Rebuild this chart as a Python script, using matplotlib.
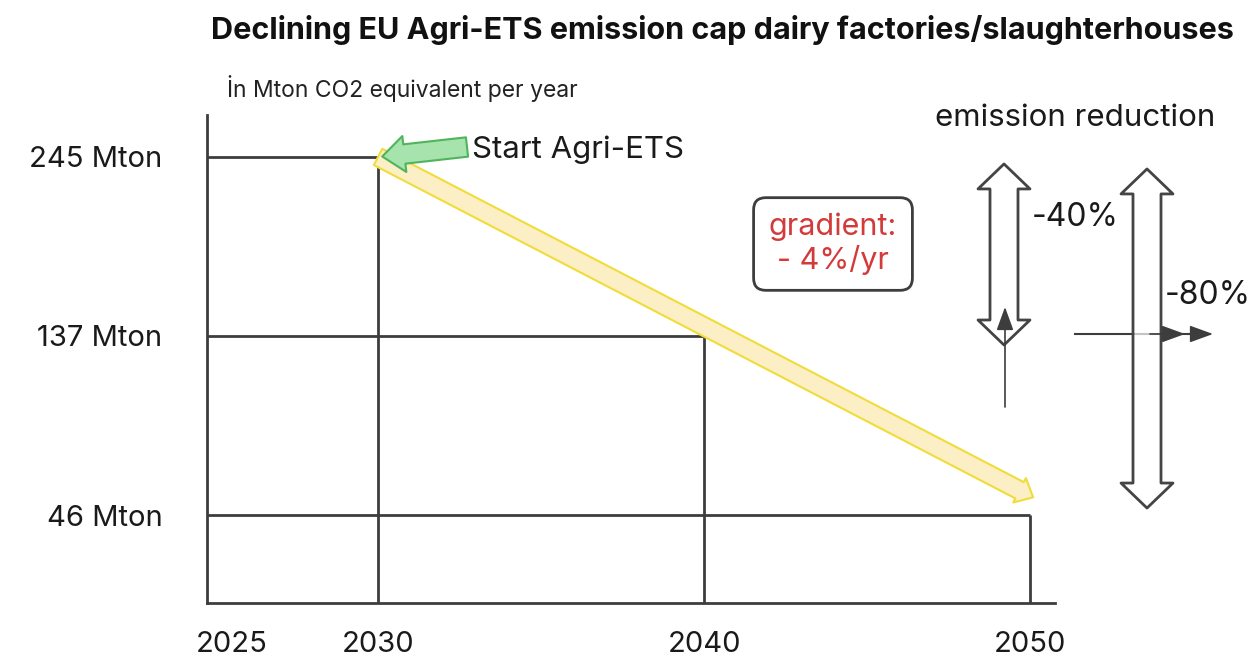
# %%
# Load imports
import numpy as np
import matplotlib
matplotlib.use('Agg')
import matplotlib.pyplot as plt
from matplotlib.patches import Polygon, FancyArrowPatch
from matplotlib.lines import Line2D
from matplotlib.transforms import IdentityTransform, ScaledTranslation

plt.rcParams['font.family'] = ['Inter', 'DejaVu Sans']

# %%
# Chart data
years = [2030, 2040, 2050]
caps = [245, 137, 46]
year_ticks = [2025, 2030, 2040, 2050]
cap_labels = ['245 Mton', '137 Mton', '46 Mton']
reductions = ['-40%', '-80%']

dark = '#3d3d3d'
W, H = 1257, 663

# %%
# The cap levels are drawn equally spaced (piecewise linear axis)
lv = sorted(caps)

def fwd(v):
    v = np.asarray(v, float)
    return np.where(v < lv[1], (v - lv[0]) / (lv[1] - lv[0]), 1 + (v - lv[1]) / (lv[2] - lv[1]))

def inv(t):
    t = np.asarray(t, float)
    return np.where(t < 1, lv[0] + t * (lv[1] - lv[0]), lv[1] + (t - 1) * (lv[2] - lv[1]))

fig = plt.figure(figsize=(W / 100, H / 100), dpi=100)
ax = fig.add_axes([207 / W, 60 / H, 848 / W, 488 / H])
ax.set_yscale('function', functions=(fwd, inv))
x0, x1 = 2024.75, 2050.77
y0, y1 = 1.3, 270.3
ax.set_xlim(x0, x1)
ax.set_ylim(y0, y1)

# %%
# Cap step lines
for yr, cap in zip(years, caps):
    ax.plot([x0, yr], [cap, cap], color=dark, lw=2, solid_capstyle='butt', zorder=2)
    ax.plot([yr, yr], [y0, cap], color=dark, lw=2, solid_capstyle='butt', zorder=2)

# Axes styling
for s in ['top', 'right']:
    ax.spines[s].set_visible(False)
for s in ['left', 'bottom']:
    ax.spines[s].set_color(dark)
    ax.spines[s].set_linewidth(2)
ax.set_xticks(year_ticks, [str(y) for y in year_ticks])
ax.set_yticks(caps, cap_labels)
ax.tick_params(length=0, labelsize=21, labelcolor='#1a1a1a')
ax.tick_params(axis='x', pad=20)
ax.tick_params(axis='y', pad=32)
# the 2025 label sits a little right of the axis corner
for lab in ax.get_xticklabels():
    if lab.get_text() == '2025':
        lab.set_transform(lab.get_transform() + ScaledTranslation(0.17, 0, fig.dpi_scale_trans))

# %%
# Declining cap arrow (yellow) and start marker (green)
ax.annotate('', xy=(2050.1, 55), xytext=(years[0], caps[0]),
            arrowprops=dict(arrowstyle='simple,head_length=0.5,head_width=0.9,tail_width=0.6',
                            mutation_scale=22, fc='#fcefc5', ec='#f0dc3a', lw=1.5,
                            shrinkA=0, shrinkB=0),
            annotation_clip=False, zorder=3)
ax.annotate('', xy=(years[0], caps[0]), xycoords='data',
            xytext=(467, H - 147), textcoords='figure pixels',
            arrowprops=dict(arrowstyle='simple,head_length=0.8,head_width=1.3,tail_width=0.7',
                            mutation_scale=20, fc='#a6e3ad', ec='#4fb45c', lw=1.5,
                            shrinkA=0, shrinkB=3),
            annotation_clip=False, zorder=4)

# %%
# Texts
fig.text(722 / W, 1 - 30 / H, 'Declining EU Agri-ETS emission cap dairy factories/slaughterhouses',
         ha='center', va='center', fontsize=22, fontweight='bold', color='#111111')
fig.text(227 / W, 1 - 88 / H, 'İn Mton CO2 equivalent per year', ha='left', va='center',
         fontsize=16.5, color='#222222')
fig.text(472 / W, 1 - 150 / H, 'Start Agri-ETS', ha='left', va='center', fontsize=22.5, color='#1a1a1a')
fig.text(1075 / W, 1 - 118 / H, 'emission reduction', ha='center', va='center', fontsize=22.5, color='#1a1a1a')
fig.text(833 / W, 1 - 244 / H, 'gradient:\n- 4%/yr', ha='center', va='center', fontsize=22,
         color='#d33a3a', linespacing=1.15,
         bbox=dict(boxstyle='round,pad=0.5,rounding_size=0.4', fc='white', ec=dark, lw=2))
fig.text(1032 / W, 1 - 218 / H, reductions[0], ha='left', va='center', fontsize=23, color='#1a1a1a')
fig.text(1165 / W, 1 - 295 / H, reductions[1], ha='left', va='center', fontsize=23, color='#1a1a1a')

# %%
# Outlined double arrows showing the reduction from the start cap
def double_arrow(cx, top, bottom, sw=14, hw=26, hl=25, fc='white', z=5):
    pts = [(cx, top), (cx + hw, top - hl), (cx + sw, top - hl), (cx + sw, bottom + hl),
           (cx + hw, bottom + hl), (cx, bottom), (cx - hw, bottom + hl), (cx - sw, bottom + hl),
           (cx - sw, top - hl), (cx - hw, top - hl)]
    poly = Polygon(pts, closed=True, fc=fc, ec='#444444', lw=2, joinstyle='round',
                   transform=IdentityTransform(), zorder=z)
    fig.add_artist(poly)

def small_arrow(p0, p1, z=6):
    arr = FancyArrowPatch(p0, p1, arrowstyle='-|>,head_length=1.1,head_width=0.4',
                          mutation_scale=13, color=dark, lw=1.2, shrinkA=0, shrinkB=0,
                          transform=IdentityTransform(), zorder=z)
    fig.add_artist(arr)

fig.canvas.draw()
py = lambda v: ax.transData.transform((2050, v))[1]

# horizontal marker line passing behind the -80% arrow
fig.add_artist(Line2D([1075, 1200], [H - 334, H - 334], color=dark, lw=1.5,
                      transform=IdentityTransform(), zorder=4))
double_arrow(1004, py(caps[0]) - 7, py(caps[1]) - 9)
double_arrow(1147, py(caps[0]) - 12, py(caps[2]) + 7, fc=(1, 1, 1, 0.7))

small_arrow((1005, H - 407), (1005, H - 307))
small_arrow((1150, H - 334), (1185, H - 334))
small_arrow((1180, H - 334), (1213, H - 334))

fig.savefig('out.png', dpi=100)
